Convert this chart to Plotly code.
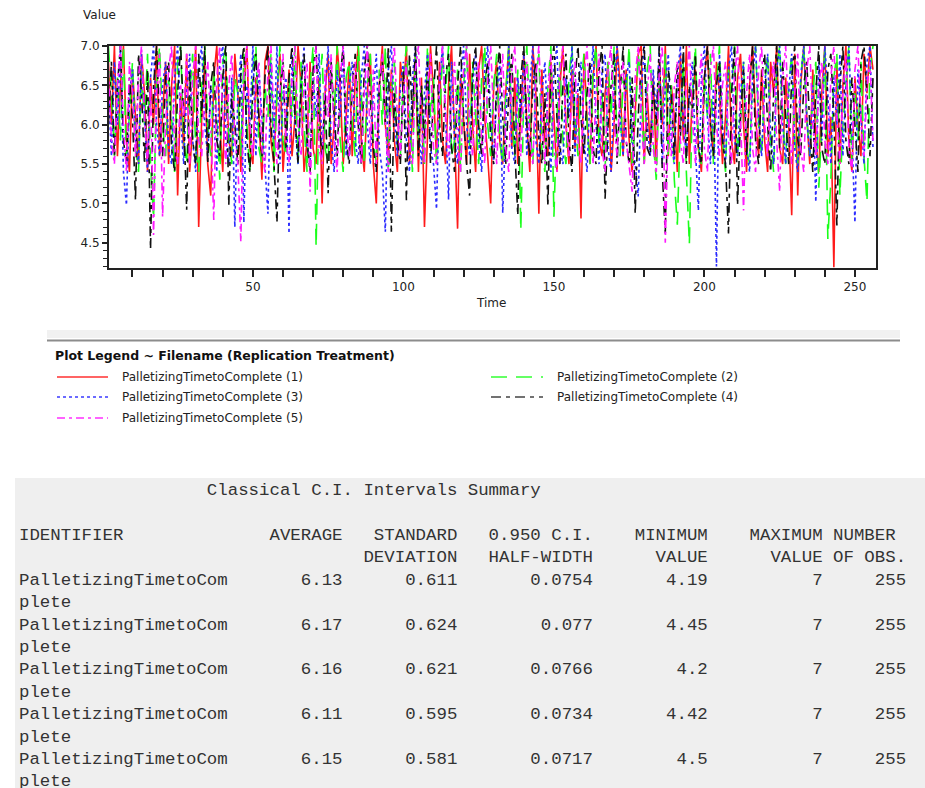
import plotly.graph_objects as go

# ---------------- data ----------------
TIME = list(range(2, 257))

SERIES_NAMES = ["PalletizingTimetoComplete (1)", "PalletizingTimetoComplete (2)",
                "PalletizingTimetoComplete (3)", "PalletizingTimetoComplete (4)",
                "PalletizingTimetoComplete (5)"]

REP1 = [6.8, 6.0, 7.0, 5.6, 6.5, 7.0, 5.8, 5.4, 6.7, 6.1, 5.5, 6.9, 6.4, 5.4, 6.6,
        6.0, 7.0, 5.6, 6.1, 6.8, 5.5, 6.5, 7.0, 5.1, 6.4, 5.7, 6.9, 5.4, 6.0, 7.0,
        4.7, 6.1, 6.8, 5.5, 5.1, 6.6, 7.0, 6.0, 5.4, 6.7, 5.8, 5.6, 6.9, 6.4, 5.4,
        6.5, 7.0, 5.7, 5.5, 6.6, 6.1, 5.3, 6.8, 7.0, 5.8, 5.5, 6.4, 6.9, 5.4, 6.0,
        6.7, 5.6, 6.1, 7.0, 6.5, 5.4, 5.8, 6.8, 5.7, 5.5, 6.6, 5.0, 6.4, 6.9, 5.5,
        6.0, 7.0, 6.5, 5.5, 6.1, 6.8, 5.6, 6.6, 7.0, 5.8, 5.4, 6.4, 6.9, 5.5, 5.0,
        6.5, 7.0, 6.0, 5.6, 6.7, 5.8, 5.4, 6.8, 6.4, 7.0, 5.5, 6.1, 6.9, 5.4, 6.6,
        4.7, 6.0, 7.0, 6.4, 5.6, 6.8, 5.8, 5.5, 6.5, 7.0, 5.7, 4.68, 6.6, 6.1, 5.5,
        6.9, 6.0, 5.4, 6.7, 7.0, 6.1, 5.6, 5.0, 6.5, 6.8, 5.8, 5.5, 6.4, 7.0, 5.7,
        6.6, 5.5, 6.1, 6.9, 6.0, 5.4, 7.0, 6.4, 4.87, 6.7, 5.8, 5.6, 6.8, 6.1, 5.4,
        6.5, 7.0, 6.0, 5.5, 6.7, 5.7, 6.4, 4.81, 6.9, 6.1, 5.5, 6.6, 7.0, 5.8, 5.6,
        6.4, 6.8, 5.4, 6.0, 7.0, 6.5, 5.6, 6.7, 5.8, 5.4, 6.1, 6.9, 7.0, 5.5, 6.4,
        5.7, 6.6, 5.5, 6.8, 6.0, 7.0, 5.6, 6.5, 6.1, 5.4, 6.9, 5.8, 7.0, 5.5, 6.4,
        6.7, 5.7, 5.4, 6.6, 7.0, 6.0, 5.6, 6.8, 6.4, 5.5, 6.1, 7.0, 5.8, 5.5, 6.6,
        6.9, 6.0, 5.4, 6.5, 7.0, 6.1, 5.6, 6.7, 5.8, 5.4, 6.8, 6.4, 7.0, 5.7, 5.5,
        6.6, 6.0, 4.85, 6.9, 5.1, 6.5, 7.0, 6.1, 5.5, 6.7, 5.8, 5.4, 6.4, 7.0, 5.6,
        6.1, 4.19, 6.8, 5.5, 6.5, 7.0, 5.8, 5.4, 6.6, 6.0, 5.6, 6.9, 6.4, 7.0, 6.7]

REP2 = [7.0, 6.4, 5.6, 6.6, 5.8, 7.0, 5.5, 6.1, 6.8, 5.7, 5.4, 6.7, 6.0, 6.9, 5.5,
        4.81, 6.5, 7.0, 6.0, 5.6, 6.6, 6.1, 5.4, 6.8, 7.0, 5.8, 5.5, 6.4, 6.9, 5.7,
        5.4, 6.5, 7.0, 6.0, 5.6, 6.7, 6.1, 5.3, 6.8, 7.0, 5.8, 5.5, 6.6, 6.4, 5.6,
        6.9, 6.0, 5.4, 6.7, 7.0, 5.7, 5.5, 6.5, 6.1, 6.9, 5.4, 6.4, 7.0, 5.8, 5.6,
        6.6, 6.1, 7.0, 5.5, 6.8, 6.0, 5.4, 6.5, 7.0, 4.45, 6.4, 6.9, 5.7, 5.5, 6.7,
        6.1, 7.0, 5.8, 5.4, 6.6, 6.8, 6.0, 5.6, 7.0, 6.4, 5.5, 6.5, 6.9, 5.8, 5.5,
        6.7, 6.0, 7.0, 5.4, 6.4, 6.8, 5.7, 5.6, 6.6, 7.0, 6.1, 5.4, 6.9, 5.8, 6.5,
        5.5, 7.0, 6.1, 6.6, 5.5, 6.0, 6.9, 6.4, 7.0, 5.6, 5.8, 6.7, 5.4, 6.5, 7.0,
        5.7, 6.8, 6.1, 5.5, 6.6, 7.0, 6.0, 5.6, 6.5, 6.9, 5.8, 5.5, 6.4, 7.0, 6.1,
        5.6, 6.7, 4.66, 6.4, 7.0, 6.0, 5.5, 6.6, 6.9, 5.7, 5.4, 6.5, 7.0, 4.83, 6.1,
        6.8, 5.8, 5.5, 6.6, 7.0, 6.1, 5.6, 6.5, 6.9, 6.0, 5.5, 6.7, 7.0, 5.7, 6.4,
        5.4, 6.8, 6.1, 7.0, 5.8, 5.6, 6.6, 6.4, 7.0, 5.5, 6.0, 6.9, 6.5, 5.5, 6.7,
        7.0, 5.8, 5.3, 6.6, 6.1, 6.9, 5.6, 6.5, 5.3, 4.73, 6.0, 6.8, 5.4, 4.48, 6.4,
        7.0, 5.7, 5.5, 6.6, 6.1, 6.9, 5.5, 6.5, 7.0, 5.8, 5.4, 6.7, 6.4, 7.0, 5.6,
        6.1, 6.8, 5.7, 5.5, 6.6, 7.0, 6.0, 5.6, 6.5, 6.9, 5.8, 5.4, 6.7, 7.0, 6.1,
        5.5, 6.5, 6.9, 5.8, 5.5, 6.6, 7.0, 6.1, 5.6, 6.4, 6.8, 5.2, 6.0, 7.0, 4.55,
        5.3, 6.6, 6.9, 5.1, 6.0, 6.5, 7.0, 5.5, 6.4, 5.8, 6.8, 5.6, 5.02, 6.7, 7.0]

REP3 = [6.5, 5.6, 6.8, 6.0, 7.0, 5.4, 4.98, 6.4, 6.7, 5.8, 5.5, 6.9, 6.1, 5.4, 6.6,
        7.0, 6.0, 5.6, 6.5, 6.8, 5.7, 5.5, 6.6, 7.0, 6.1, 5.5, 6.4, 6.9, 5.8, 5.4,
        6.7, 7.0, 6.0, 5.6, 6.5, 6.1, 5.4, 6.8, 7.0, 5.8, 5.5, 6.6, 4.70, 6.4, 6.9,
        4.76, 6.5, 6.0, 7.0, 5.6, 6.7, 6.1, 5.4, 4.87, 6.8, 5.8, 7.0, 5.5, 6.4, 6.6,
        4.62, 6.9, 6.0, 5.5, 6.5, 7.0, 5.7, 5.5, 6.6, 6.1, 6.9, 5.6, 6.4, 7.0, 5.8,
        5.4, 6.7, 6.1, 7.0, 5.6, 6.5, 6.8, 5.8, 5.5, 6.6, 7.0, 6.0, 5.5, 6.4, 6.9,
        5.7, 5.4, 4.64, 6.7, 7.0, 6.1, 5.6, 6.5, 6.8, 5.8, 5.4, 6.6, 7.0, 6.0, 5.5,
        6.4, 6.9, 5.7, 5.5, 4.93, 6.5, 7.0, 6.1, 5.05, 6.8, 5.8, 5.5, 6.6, 7.0, 6.0,
        5.6, 6.5, 6.9, 5.8, 5.4, 6.7, 7.0, 6.1, 5.5, 6.4, 6.8, 4.88, 6.0, 7.0, 5.7,
        5.5, 6.6, 6.1, 6.9, 5.6, 6.5, 7.0, 5.8, 5.5, 6.4, 6.8, 6.0, 5.4, 6.7, 7.0,
        5.7, 5.5, 6.6, 6.1, 7.0, 5.6, 6.5, 6.8, 5.8, 5.4, 6.4, 7.0, 6.0, 5.5, 6.7,
        6.9, 5.7, 5.4, 6.5, 7.0, 6.1, 5.6, 6.6, 6.8, 5.8, 5.5, 5.09, 6.4, 7.0, 6.0,
        5.6, 6.7, 6.1, 7.0, 5.5, 6.5, 6.9, 5.8, 5.5, 6.6, 7.0, 6.0, 5.6, 6.4, 6.8,
        5.7, 4.91, 6.6, 7.0, 6.1, 5.5, 6.5, 4.20, 6.9, 6.0, 5.5, 6.7, 7.0, 5.8, 5.6,
        6.4, 6.8, 5.7, 5.4, 6.6, 7.0, 6.1, 5.6, 6.5, 6.9, 5.8, 5.5, 6.7, 7.0, 6.0,
        5.5, 6.4, 6.9, 5.7, 5.4, 6.6, 7.0, 6.1, 5.6, 6.5, 5.02, 6.8, 5.8, 7.0, 6.4,
        5.5, 6.6, 6.0, 6.9, 5.6, 6.5, 7.0, 5.8, 4.76, 6.7, 6.1, 5.5, 6.8, 7.0, 5.7]

REP4 = [6.0, 6.8, 5.6, 6.5, 7.0, 5.8, 5.5, 6.6, 6.1, 5.04, 6.9, 6.4, 5.5, 6.7, 4.42,
        6.5, 7.0, 6.0, 5.6, 6.6, 6.8, 5.7, 5.4, 6.4, 7.0, 6.1, 4.92, 6.7, 5.8, 5.5,
        6.9, 6.1, 7.0, 5.5, 6.5, 6.8, 5.8, 5.6, 6.6, 7.0, 4.98, 6.4, 6.0, 5.5, 6.7,
        7.0, 5.8, 5.4, 6.5, 6.9, 6.1, 5.6, 6.6, 7.0, 6.0, 5.5, 4.76, 6.4, 6.8, 5.7,
        6.6, 7.0, 6.1, 5.5, 6.5, 6.9, 5.8, 5.4, 6.7, 7.0, 6.0, 5.6, 6.4, 5.13, 6.8,
        6.1, 5.6, 6.6, 7.0, 5.8, 5.5, 6.5, 6.9, 6.0, 5.5, 6.7, 7.0, 6.4, 5.7, 5.4,
        6.5, 6.8, 6.0, 7.0, 4.64, 6.4, 5.8, 5.5, 6.7, 5.04, 6.9, 6.1, 7.0, 5.6, 6.5,
        5.8, 6.8, 5.5, 6.4, 7.0, 6.0, 5.6, 6.6, 6.9, 5.7, 5.4, 6.5, 7.0, 6.1, 5.5,
        5.10, 6.7, 7.0, 6.0, 5.6, 6.5, 6.8, 5.8, 5.5, 6.6, 7.0, 6.1, 5.5, 6.4, 6.9,
        5.7, 4.85, 6.6, 7.0, 6.0, 5.6, 6.5, 6.8, 5.8, 5.5, 6.4, 4.96, 6.7, 7.0, 6.1,
        5.5, 6.5, 6.9, 5.8, 5.4, 6.6, 7.0, 6.1, 5.6, 6.4, 6.8, 5.7, 5.5, 6.7, 7.0,
        5.06, 6.0, 6.5, 6.9, 5.5, 6.4, 7.0, 5.8, 5.5, 6.6, 4.87, 6.1, 6.8, 7.0, 5.7,
        5.6, 6.5, 6.0, 7.0, 5.4, 4.62, 6.7, 6.4, 5.6, 6.8, 5.8, 7.0, 5.5, 6.5, 6.1,
        6.9, 5.7, 5.5, 6.6, 7.0, 6.0, 5.6, 6.5, 6.8, 5.8, 5.5, 4.62, 6.4, 7.0, 4.98,
        6.1, 6.7, 5.6, 6.5, 7.0, 5.8, 5.5, 6.6, 6.9, 6.0, 5.4, 6.4, 7.0, 5.7, 6.8,
        6.1, 5.5, 6.6, 7.0, 5.8, 5.6, 6.5, 6.8, 6.0, 5.4, 6.4, 7.0, 5.7, 5.5, 6.7,
        6.9, 6.1, 4.72, 6.5, 7.0, 5.8, 5.5, 6.6, 6.0, 5.4, 6.8, 7.0, 6.4, 5.6, 6.6]

REP5 = [6.7, 5.8, 5.5, 6.5, 7.0, 6.0, 5.4, 6.8, 6.4, 5.6, 6.6, 7.0, 6.1, 5.5, 6.5,
        4.6, 6.4, 6.9, 4.83, 6.0, 6.7, 7.0, 5.7, 5.5, 6.5, 6.1, 6.9, 5.5, 6.6, 7.0,
        5.8, 5.6, 6.4, 6.8, 6.0, 4.79, 6.6, 7.0, 6.1, 5.5, 6.5, 6.9, 5.8, 5.5, 4.51,
        6.6, 7.0, 6.0, 5.6, 6.5, 6.8, 5.7, 5.4, 6.7, 7.0, 6.1, 5.5, 6.4, 6.9, 5.8,
        5.5, 6.6, 7.0, 6.0, 5.6, 6.5, 6.8, 5.15, 6.4, 7.0, 5.7, 5.5, 6.7, 6.1, 6.9,
        5.8, 5.4, 6.6, 7.0, 6.1, 5.6, 6.5, 6.8, 6.0, 5.5, 6.4, 7.0, 5.7, 6.7, 5.5,
        6.5, 6.9, 6.0, 5.4, 6.6, 7.0, 6.1, 5.6, 6.4, 6.8, 5.8, 5.5, 6.7, 7.0, 6.0,
        5.5, 6.5, 6.9, 5.7, 5.5, 6.6, 7.0, 6.1, 5.6, 6.4, 6.8, 5.8, 5.4, 6.7, 7.0,
        6.0, 5.6, 6.5, 6.8, 5.8, 5.5, 6.6, 7.0, 6.1, 5.5, 6.4, 6.9, 5.7, 5.4, 6.7,
        7.0, 6.0, 5.6, 6.5, 6.8, 5.8, 5.5, 6.6, 7.0, 6.1, 5.5, 6.4, 6.9, 5.7, 5.4,
        6.7, 7.0, 6.0, 5.6, 6.5, 6.8, 5.8, 5.5, 6.6, 7.0, 6.1, 5.5, 6.4, 6.9, 5.7,
        5.4, 6.7, 7.0, 6.0, 5.6, 6.5, 6.8, 5.8, 5.5, 5.15, 6.6, 7.0, 6.1, 5.5, 6.4,
        6.9, 5.7, 5.4, 6.7, 7.0, 4.50, 6.0, 5.6, 6.5, 6.8, 5.8, 5.5, 6.6, 7.0, 6.1,
        5.5, 6.4, 6.9, 5.7, 5.4, 6.7, 7.0, 6.0, 5.6, 6.5, 6.8, 5.8, 5.5, 6.6, 7.0,
        6.1, 4.91, 6.4, 6.9, 5.7, 5.4, 6.7, 7.0, 6.0, 5.6, 6.5, 6.8, 5.8, 5.15, 6.6,
        7.0, 6.1, 5.5, 6.4, 6.9, 5.7, 5.4, 6.7, 7.0, 6.0, 5.6, 6.5, 6.8, 5.8, 5.5,
        6.6, 7.0, 6.1, 5.5, 6.4, 6.9, 5.7, 5.4, 6.7, 7.0, 6.0, 5.6, 6.5, 6.8, 5.8]

SERIES = [REP1, REP2, REP3, REP4, REP5]

Y_TICKS = [4.5, 5.0, 5.5, 6.0, 6.5, 7.0]
X_TICKS = [50, 100, 150, 200, 250]

# summary table
TABLE_TITLE = "Classical C.I. Intervals Summary"
IDENT_1 = "PalletizingTimetoCom"
IDENT_2 = "plete"
AVERAGE = [6.13, 6.17, 6.16, 6.11, 6.15]
STD_DEV = [0.611, 0.624, 0.621, 0.595, 0.581]
HALF_WIDTH = [0.0754, 0.077, 0.0766, 0.0734, 0.0717]
MIN_VALUE = [4.19, 4.45, 4.2, 4.42, 4.5]
MAX_VALUE = [7, 7, 7, 7, 7]
N_OBS = [255, 255, 255, 255, 255]

# ---------------- styling ----------------
COLORS = ["#ff1a1a", "#1aff1a", "#2a2aff", "#111111", "#ff1aff"]
DASHES = ["solid", "16px,9px", "3px,3px", "10px,5px,4px,5px", "8px,4px,3px,4px"]
LEG_COLORS = ["#ff3030", "#33ff33", "#3a3aff", "#444444", "#ff30ff"]

W, H = 925, 788
L, R, T, B = 109, 876, 46, 268

SANS = "DejaVu Sans, Verdana, sans-serif"


def px(x):
    return (x - L) / (R - L)


def py(y):
    return (B - y) / (B - T)


fig = go.Figure()
for i, vals in enumerate(SERIES):
    fig.add_trace(go.Scatter(x=TIME, y=vals, mode="lines", name=SERIES_NAMES[i],
                             line=dict(color=COLORS[i], width=1.6, dash=DASHES[i]),
                             showlegend=False))

axis_font = dict(family=SANS, size=12, color="#222")

fig.update_xaxes(range=[2.2, 257], tickvals=X_TICKS, ticks="outside", ticklen=7,
                 tickwidth=1.5, tickcolor="#222",
                 minor=dict(dtick=10, tick0=0, ticks="outside", ticklen=7, tickwidth=1.5,
                            tickcolor="#222", showgrid=False),
                 showgrid=False, zeroline=False, showline=True, linecolor="#222",
                 linewidth=2, mirror=True, tickfont=axis_font)
fig.update_yaxes(range=[4.18, 7.0], tickvals=Y_TICKS, tickformat=".1f", ticks="outside",
                 ticklen=5, tickwidth=1.5, tickcolor="#222",
                 minor=dict(dtick=0.1, tick0=0, ticks="outside", ticklen=4, tickwidth=1.2,
                            tickcolor="#222", showgrid=False),
                 showgrid=False, zeroline=False, showline=True, linecolor="#222",
                 linewidth=2, mirror=True, tickfont=axis_font)

shapes = []
annotations = []

# axis titles
annotations.append(dict(x=px(99), y=py(15), xref="paper", yref="paper", text="Value",
                        showarrow=False, xanchor="center", yanchor="middle", font=axis_font))
annotations.append(dict(x=px(491), y=py(303), xref="paper", yref="paper", text="Time",
                        showarrow=False, xanchor="center", yanchor="middle", font=axis_font))

# legend separator
shapes.append(dict(type="rect", xref="paper", yref="paper", x0=px(47), x1=px(900),
                   y0=py(338), y1=py(330), fillcolor="#f1f1f1", line=dict(width=0)))
shapes.append(dict(type="line", xref="paper", yref="paper", x0=px(47), x1=px(900),
                   y0=py(340.5), y1=py(340.5), line=dict(color="#8c8c8c", width=2)))

annotations.append(dict(x=px(53), y=py(355), xref="paper", yref="paper",
                        text="<b>Plot Legend ~ Filename (Replication Treatment)</b>",
                        showarrow=False, xanchor="left", yanchor="middle",
                        font=dict(family=SANS, size=12.5, color="#111")))

leg_pos = [(57, 108, 120, 377), (491, 543, 555, 377), (57, 108, 120, 397),
           (491, 543, 555, 397), (57, 108, 120, 418)]
for i, (x0, x1, tx, yy) in enumerate(leg_pos):
    shapes.append(dict(type="line", xref="paper", yref="paper", x0=px(x0), x1=px(x1),
                       y0=py(yy), y1=py(yy),
                       line=dict(color=LEG_COLORS[i], width=1.5, dash=DASHES[i])))
    annotations.append(dict(x=px(tx), y=py(yy), xref="paper", yref="paper",
                            text=SERIES_NAMES[i], showarrow=False, xanchor="left",
                            yanchor="middle",
                            font=dict(family=SANS, size=12, color="#222")))

# summary table
shapes.append(dict(type="rect", xref="paper", yref="paper", x0=px(15), x1=px(925),
                   y0=py(788), y1=py(478), fillcolor="#efefef", line=dict(width=0),
                   layer="below"))


def fmt(v):
    return f"{v:g}"


lines = []
lines.append((490, " " * 18 + TABLE_TITLE))
lines.append((535, f"{'IDENTIFIER':<20}{'AVERAGE':>11}{'STANDARD':>11}{'0.950 C.I.':>13}"
                   f"{'MINIMUM':>11}{'MAXIMUM':>11} {'NUMBER':<7}"))
lines.append((557.4, f"{'':<20}{'':>11}{'DEVIATION':>11}{'HALF-WIDTH':>13}"
                     f"{'VALUE':>11}{'VALUE':>11} {'OF OBS.':<7}"))
y0 = 580.3
for k in range(len(AVERAGE)):
    row = (f"{IDENT_1:<20}{fmt(AVERAGE[k]):>11}{fmt(STD_DEV[k]):>11}{fmt(HALF_WIDTH[k]):>13}"
           f"{fmt(MIN_VALUE[k]):>11}{fmt(MAX_VALUE[k]):>11}{fmt(N_OBS[k]):>8}")
    lines.append((y0 + k * 44.8, row))
    lines.append((y0 + k * 44.8 + 22.4, IDENT_2))

mono = dict(family="Liberation Mono, Courier New, monospace", size=17.4, color="#333")
for yy, txt in lines:
    annotations.append(dict(x=px(17), y=py(yy), xref="paper", yref="paper",
                            text=txt.replace(" ", "\u00a0"), showarrow=False,
                            xanchor="left", yanchor="middle", font=mono))

fig.update_layout(width=W, height=H, margin=dict(l=L, r=W - R, t=T, b=H - B),
                  paper_bgcolor="white", plot_bgcolor="white", showlegend=False,
                  shapes=shapes, annotations=annotations)

fig.write_html("out.html")
